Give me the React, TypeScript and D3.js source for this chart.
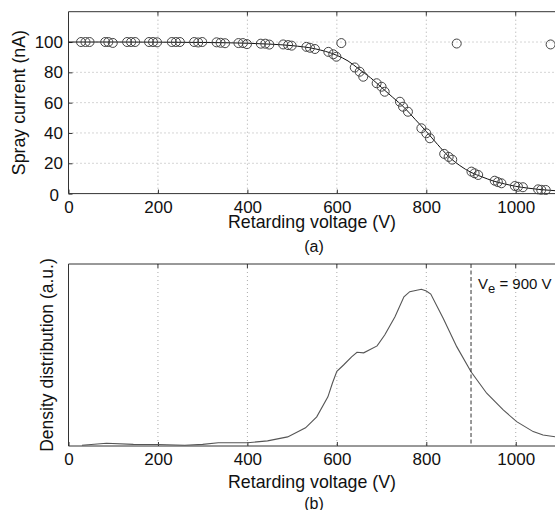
import React, { useRef, useEffect } from "react";
import * as d3 from "d3";

// (a) measured spray current, triplets of readings per retarding voltage step
const measVolts = [
  28, 38, 47, 82, 89, 99, 131, 140, 149, 180, 189, 198, 231, 240, 249,
  281, 290, 299, 331, 340, 350, 380, 390, 399, 430, 440, 449, 480, 491, 499,
  532, 540, 551, 581, 592, 599, 640, 651, 659, 689, 700, 707, 741, 748, 759,
  789, 800, 808, 840, 850, 858, 901, 908, 916, 953, 960, 968, 998, 1005, 1016,
  1050, 1057, 1067, 610, 868, 1078
];
const measCurrent = [
  100, 100, 100, 100, 100, 99.4, 100, 100, 100, 100, 100, 99.8, 100, 100, 100,
  100, 99.7, 100, 99.8, 99.5, 99.2, 99.3, 99.3, 98.6, 98.9, 98.9, 98.3, 98.4, 98.0, 97.6,
  96.8, 96.2, 95.4, 93.5, 91.9, 90.3, 83.2, 80.4, 77.1, 72.8, 70.5, 67.2, 60.6, 57.3, 54.0,
  43.1, 39.8, 36.5, 26.2, 24.2, 22.4, 14.5, 13.4, 12.3, 8.5, 7.6, 6.8, 5.0, 4.5, 4.2,
  2.8, 2.5, 2.4, 99.3, 99.0, 98.4
];

// (a) fitted curve
const fitVolts = [0, 100, 200, 300, 400, 450, 500, 550, 600, 625, 650, 675, 700, 725, 750, 775, 800, 825, 850, 875, 900, 925, 950, 975, 1000, 1025, 1050, 1075, 1090];
const fitCurrent = [100, 100, 99.9, 99.7, 99.2, 98.6, 97.6, 95.6, 91.2, 87.5, 82, 76.5, 70, 63.5, 57, 49, 41, 32.5, 24.5, 18.5, 14, 11, 8.3, 6.4, 4.8, 3.7, 2.8, 2.2, 1.9];

// (b) density distribution (arbitrary units)
const densVolts = [30, 85, 145, 200, 260, 300, 335, 400, 445, 490, 530, 555, 580, 590, 600, 615, 633, 645, 660, 690, 707, 730, 750, 763, 789, 800, 810, 838, 868, 900, 935, 972, 1002, 1039, 1061, 1090];
const densValue = [0.004, 0.015, 0.009, 0.008, 0.004, 0.009, 0.018, 0.018, 0.028, 0.05, 0.1, 0.16, 0.27, 0.345, 0.41, 0.445, 0.49, 0.515, 0.512, 0.55, 0.61, 0.71, 0.82, 0.848, 0.861, 0.852, 0.835, 0.70, 0.546, 0.408, 0.29, 0.198, 0.134, 0.079, 0.06, 0.05];

const xTicks = [0, 200, 400, 600, 800, 1000];
const yTicksA = [0, 20, 40, 60, 80, 100];
const eVoltage = 900;

const FONT = "'Liberation Sans', Arial, Helvetica, sans-serif";

const App = () => {
  const svgRef = useRef(null);

  useEffect(() => {
    const svg = d3.select(svgRef.current);
    svg.selectAll("*").remove();

    const left = 68.5, right = 556;
    const x = d3.scaleLinear().domain([0, 1090]).range([left, right]);
    const yA = d3.scaleLinear().domain([0, 120]).range([193.6, 11.7]);
    const yB = d3.scaleLinear().domain([0, 1]).range([446, 264]);

    const drawPanel = (yScale, yTicks, top, bottom) => {
      const g = svg.append("g");
      // grid
      g.selectAll(".vgrid").data(xTicks.filter((d) => d > 0)).join("line")
        .attr("x1", (d) => x(d)).attr("x2", (d) => x(d))
        .attr("y1", top).attr("y2", bottom)
        .attr("stroke", "#aaa").attr("stroke-width", 1).attr("stroke-dasharray", "1 3");
      if (yTicks) {
        g.selectAll(".hgrid").data(yTicks.filter((d) => d > 0)).join("line")
          .attr("x1", left).attr("x2", right)
          .attr("y1", (d) => yScale(d)).attr("y2", (d) => yScale(d))
          .attr("stroke", "#aaa").attr("stroke-width", 1).attr("stroke-dasharray", "1 3");
      }
      // x axis
      const xAxis = d3.axisBottom(x).tickValues(xTicks).tickSizeInner(-4).tickSizeOuter(0).tickPadding(7).tickFormat(d3.format("d"));
      const gx = g.append("g").attr("transform", `translate(0,${bottom})`).call(xAxis);
      gx.select(".domain").remove();
      gx.selectAll("line").attr("stroke", "#333");
      gx.selectAll("text").attr("font-size", 17).attr("font-family", FONT).attr("fill", "#111");
      // top ticks
      g.selectAll(".ttick").data(xTicks.filter((d) => d > 0)).join("line")
        .attr("x1", (d) => x(d)).attr("x2", (d) => x(d))
        .attr("y1", top).attr("y2", top + 4).attr("stroke", "#333");
      if (yTicks) {
        const yAxis = d3.axisLeft(yScale).tickValues(yTicks).tickSizeInner(-4).tickSizeOuter(0).tickPadding(5.5);
        const gy = g.append("g").attr("transform", `translate(${left},0)`).call(yAxis);
        gy.select(".domain").remove();
        gy.selectAll("line").attr("stroke", "#333");
        gy.selectAll("text").attr("font-size", 17).attr("font-family", FONT).attr("fill", "#111");
        gy.selectAll(".tick").filter((d) => d === 0).select("text").attr("dx", -4).attr("dy", "0.42em");
      }
      // frame
      g.append("path")
        .attr("d", `M${right},${top}H${left}V${bottom}H${right}`)
        .attr("fill", "none").attr("stroke", "#333").attr("stroke-width", 1);
      return g;
    };

    // ---- panel (a)
    const gA = drawPanel(yA, yTicksA, 11.7, 193.6);
    const fitLine = d3.line().x((d) => x(d[0])).y((d) => yA(d[1])).curve(d3.curveMonotoneX);
    gA.append("path")
      .datum(fitVolts.map((v, i) => [v, fitCurrent[i]]))
      .attr("d", fitLine).attr("fill", "none").attr("stroke", "#111").attr("stroke-width", 1);
    gA.selectAll(".pt").data(measVolts.map((v, i) => [v, measCurrent[i]])).join("circle")
      .attr("cx", (d) => x(d[0])).attr("cy", (d) => yA(d[1])).attr("r", 4.5)
      .attr("fill", "none").attr("stroke", "#444").attr("stroke-width", 1);

    // ---- panel (b)
    const gB = drawPanel(yB, null, 264, 446);
    const densLine = d3.line().x((d) => x(d[0])).y((d) => yB(d[1]));
    gB.append("path")
      .datum(densVolts.map((v, i) => [v, densValue[i]]))
      .attr("d", densLine).attr("fill", "none").attr("stroke", "#555").attr("stroke-width", 1.1);
    gB.append("line")
      .attr("x1", x(eVoltage)).attr("x2", x(eVoltage)).attr("y1", 264).attr("y2", 446)
      .attr("stroke", "#333").attr("stroke-width", 1).attr("stroke-dasharray", "4 2.5");
    const ve = gB.append("text").attr("x", 478).attr("y", 288.5)
      .attr("font-size", 15).attr("font-family", FONT).attr("fill", "#111");
    ve.append("tspan").text("V");
    ve.append("tspan").attr("dy", 4.5).attr("font-size", 13).text("e");
    ve.append("tspan").attr("dy", -4.5).text(" = 900 V");

    // ---- labels
    const label = (txt, tx, ty, rot, size) => svg.append("text")
      .attr("transform", `translate(${tx},${ty})${rot ? " rotate(-90)" : ""}`)
      .attr("text-anchor", "middle").attr("font-size", size).attr("font-family", FONT)
      .attr("fill", "#111").text(txt);
    label("Retarding voltage (V)", 312, 228, false, 17.8);
    label("(a)", 314, 252, false, 16);
    label("Spray current (nA)", 25, 102.6, true, 17.8);
    label("Retarding voltage (V)", 312, 487.5, false, 17.8);
    label("(b)", 314, 509, false, 16);
    label("Density distribution (a.u.)", 53, 355, true, 17.5);
  }, []);

  return (
    <svg ref={svgRef} width={555} height={510}
      style={{ position: "absolute", left: 0, top: 0, background: "#fff" }} />
  );
};

export default App;
